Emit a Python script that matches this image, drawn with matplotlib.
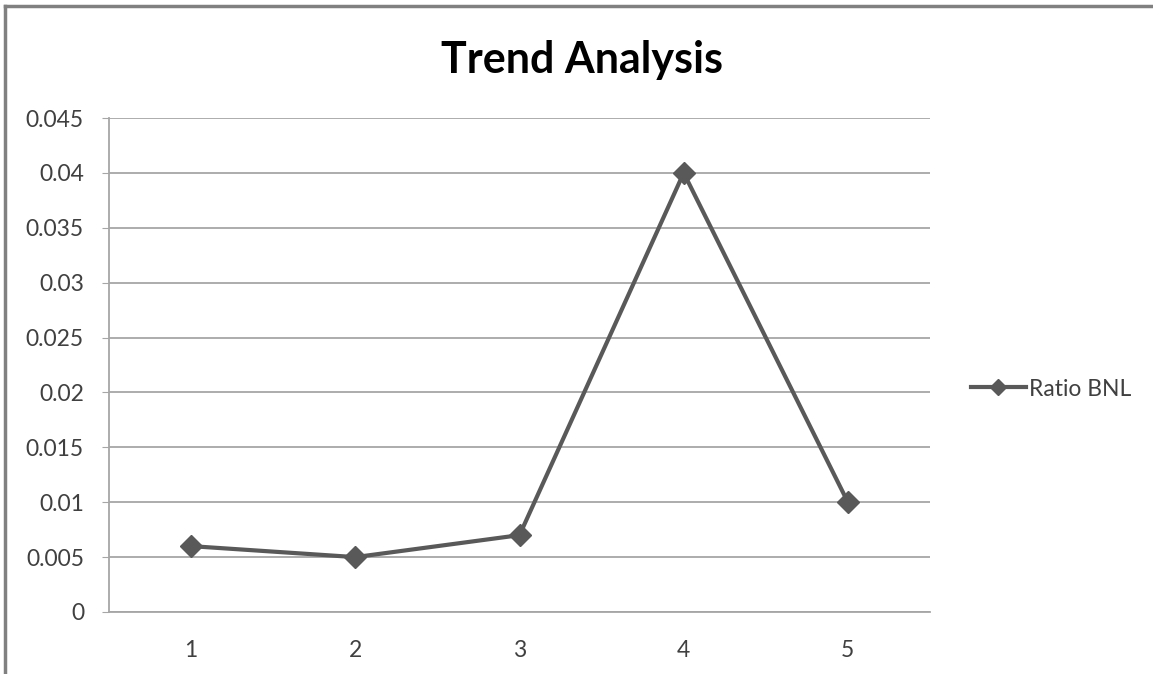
import matplotlib.pyplot as plt
from matplotlib.lines import Line2D

categories = ['1', '2', '3', '4', '5']
ratio_bnl = [0.006, 0.005, 0.007, 0.04, 0.01]
y_ticks = [0, 0.005, 0.01, 0.015, 0.02, 0.025, 0.03, 0.035, 0.04, 0.045]
y_labels = ['0', '0.005', '0.01', '0.015', '0.02', '0.025', '0.03', '0.035', '0.04', '0.045']

plt.rcParams['font.family'] = ['Lato', 'DejaVu Sans']

W, H = 1153, 674
fig = plt.figure(figsize=(W / 100, H / 100), dpi=100)
ax = fig.add_axes([109 / W, 1 - 612 / H, (930 - 109) / W, (612 - 118) / H])

x = range(len(categories))
ax.plot(x, ratio_bnl, color='#595959', lw=3, marker='D', ms=11,
        markerfacecolor='#595959', markeredgecolor='#595959')

ax.set_xlim(-0.5, len(categories) - 0.5)
ax.set_ylim(0, 0.045)
ax.set_xticks(list(x))
ax.set_xticklabels(categories)
ax.set_yticks(y_ticks)
ax.set_yticklabels(y_labels)
ax.grid(axis='y', color='#a6a6a6', lw=1.3)
ax.set_axisbelow(True)

for side in ['top', 'right']:
    ax.spines[side].set_visible(False)
for side in ['left', 'bottom']:
    ax.spines[side].set_color('#a6a6a6')
    ax.spines[side].set_linewidth(1.3)
ax.tick_params(axis='y', length=5, color='#a6a6a6', labelsize=16.5,
               labelcolor='#404040', pad=13)
ax.tick_params(axis='x', length=0, labelsize=16.5, labelcolor='#404040', pad=20)

fig.text(582 / W, 1 - 60 / H, 'Trend Analysis', ha='center', va='center',
         fontsize=31, fontweight='bold', color='black')

# legend to the right of the plot area
handle = Line2D([], [], color='#595959', lw=3, marker='D', ms=8)
fig.legend([handle], ['Ratio BNL'], loc='center left',
           bbox_to_anchor=(950 / W, 1 - 389 / H), frameon=False,
           fontsize=16.5, handlelength=2.4, handletextpad=0.15,
           labelcolor='#404040')

# chart frame edges
fig.add_artist(Line2D([5 / W, 5 / W], [0, 1 - 6 / H], color='#808080', lw=2.5))
fig.add_artist(Line2D([5 / W, 1], [1 - 6 / H, 1 - 6 / H], color='#808080', lw=2.5))

fig.savefig('out.png', dpi=100, facecolor='white')
